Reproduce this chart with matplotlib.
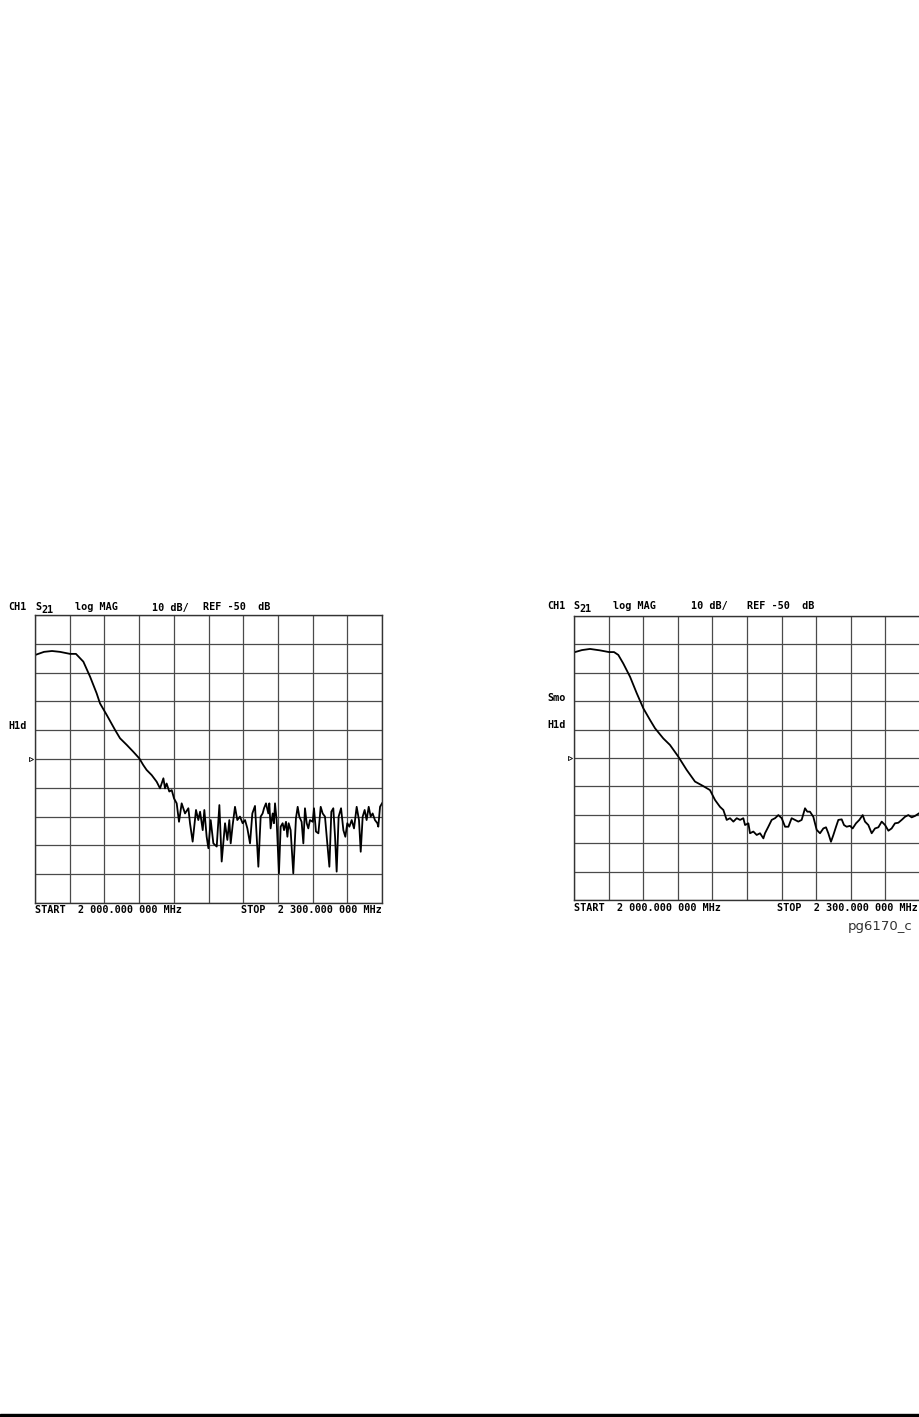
import numpy as np
import matplotlib
matplotlib.use("Agg")
import matplotlib.pyplot as plt
from matplotlib.patches import Rectangle

# sweep: 2000 -> 2300 MHz, 10 dB/div, ref -50 dB at centre
f_start, f_stop = 2000.0, 2300.0
db_top, db_bottom = 0.0, -100.0

# left trace (no smoothing)
left_freq = [2000.0, 2007.8, 2014.7, 2021.6, 2030.3, 2035.4, 2041.8, 2047.6, 2053.3, 2056.2,
             2062.0, 2069.2, 2073.5, 2079.3, 2085.0, 2090.2, 2093.6,
             2096.5, 2100.9, 2105.2, 2108.1, 2111.0, 2112.4, 2113.8, 2116.1, 2118.2, 2120.2,
             2122.5, 2124.5, 2126.8, 2129.7, 2132.6, 2134.0, 2136.3, 2139.2, 2141.2, 2142.7,
             2145.0, 2146.4, 2148.4, 2149.9, 2151.9, 2154.2, 2157.1, 2159.4, 2161.4, 2164.3,
             2166.3, 2168.0, 2169.2, 2170.9, 2172.9, 2174.9, 2177.2, 2179.5, 2181.6, 2183.6,
             2185.9, 2187.9, 2190.2, 2193.1, 2195.1,
             2196.8, 2198.0, 2199.7, 2201.7, 2202.6, 2203.7, 2205.5, 2206.6, 2207.5, 2208.9,
             2210.9, 2212.4, 2214.1, 2215.3, 2217.0, 2218.2, 2219.3, 2221.0, 2223.3, 2225.6,
             2227.1, 2228.5, 2230.5, 2232.0, 2233.4, 2234.9, 2236.3, 2237.7, 2240.1, 2241.2,
             2242.9, 2245.0, 2247.0, 2248.7, 2250.7, 2252.2, 2254.5, 2256.2, 2257.9, 2259.4,
             2260.8, 2262.5, 2264.6, 2266.6, 2268.3, 2270.0, 2271.8, 2273.8, 2275.8, 2278.1,
             2280.1, 2281.6, 2283.3, 2285.0, 2286.7, 2288.5, 2290.2, 2291.9, 2293.9, 2296.0,
             2296.8, 2298.3, 2300.0]
left_db = [-13.9, -12.8, -12.5, -12.8, -13.5, -13.5, -16.2, -21.4, -27.2, -30.7,
           -34.7, -39.9, -42.8, -45.1, -47.5, -49.8, -52.1,
           -53.8, -55.6, -57.9, -60.2, -56.7, -60.2, -58.5, -61.3, -60.8, -63.7,
           -65.4, -71.8, -65.4, -68.9, -67.1, -72.3, -78.7, -67.7, -71.2, -68.3,
           -74.7, -67.7, -77.0, -81.0, -71.2, -79.3, -80.4, -66.0, -85.6, -72.3,
           -78.1, -71.2, -79.3, -72.9, -66.6, -71.2, -70.0, -72.3, -71.2, -74.1,
           -79.3, -68.9, -66.3, -87.4, -70.0,
           -68.9, -67.1, -65.4, -68.9, -65.4, -74.1, -68.9, -72.3, -65.4, -71.2,
           -89.7, -73.5, -72.3, -74.7, -71.8, -77.0, -72.3, -74.7, -89.7, -70.6,
           -66.6, -70.0, -71.8, -79.3, -67.1, -72.3, -74.1, -71.2, -71.8, -67.1,
           -75.2, -75.8, -66.6, -68.9, -70.0, -77.0, -87.4, -68.3, -67.1, -77.0,
           -89.1, -70.0, -67.1, -74.7, -77.0, -72.3, -73.5, -71.2, -74.1, -66.6,
           -71.2, -82.2, -70.0, -67.7, -71.2, -66.6, -70.0, -68.9, -71.2, -72.3,
           -73.5, -66.6, -65.4]

# right trace (smoothing on)
right_freq = [2000.0, 2006.9, 2013.9, 2022.5, 2030.3, 2034.7, 2038.4, 2042.7, 2048.6, 2054.4,
              2060.1, 2065.9, 2070.2, 2077.4, 2083.2, 2090.4, 2097.7, 2104.9, 2112.1, 2117.9,
              2122.3, 2126.6, 2129.5, 2132.4, 2135.3, 2138.2, 2141.1, 2144.0, 2146.8, 2148.3,
              2151.2, 2152.6, 2155.5, 2158.4, 2161.3, 2164.2, 2165.6, 2168.5, 2171.4, 2174.3,
              2177.2, 2180.1, 2183.0, 2185.9, 2188.7, 2191.6, 2194.5, 2197.4, 2200.3, 2202.3,
              2204.6, 2207.5, 2210.4, 2213.3, 2216.2, 2218.5, 2220.5, 2222.8, 2224.9, 2227.2,
              2229.2, 2232.1, 2234.1, 2236.4, 2239.3, 2241.6, 2244.5, 2247.4, 2250.3, 2252.3,
              2255.2, 2258.1, 2261.0, 2263.9, 2266.8, 2269.7, 2272.6, 2275.4, 2278.3, 2281.2,
              2284.1, 2287.0, 2289.9, 2292.8, 2295.7, 2299.1]
right_db = [-12.8, -12.0, -11.6, -12.1, -12.7, -12.7, -13.7, -16.7, -21.4, -27.2,
            -32.5, -36.6, -39.5, -43.1, -45.4, -49.5, -54.2, -58.3, -59.9, -61.3,
            -64.8, -67.2, -68.3, -71.8, -71.2, -72.4, -71.2, -71.8, -71.2, -73.6,
            -73.0, -76.5, -75.9, -77.1, -76.5, -78.3, -76.5, -74.2, -71.8, -71.2,
            -70.1, -71.2, -74.2, -74.2, -71.2, -71.8, -72.4, -71.8, -67.7, -68.9,
            -68.9, -70.7, -75.3, -76.5, -74.8, -74.4, -76.5, -79.5, -77.1, -74.2,
            -71.8, -71.6, -73.6, -74.2, -73.9, -74.8, -73.0, -71.8, -70.1, -72.4,
            -73.6, -76.5, -74.8, -74.4, -72.4, -73.6, -75.6, -74.8, -73.0, -72.8,
            -71.8, -70.7, -70.1, -70.9, -70.4, -69.5]

header_words = ["CH1", None, "log MAG", "10 dB/", "REF -50  dB"]

W, H = 920, 1417
fig = plt.figure(figsize=(W / 100, H / 100), dpi=100)
mono = dict(family="DejaVu Sans Mono", weight="bold", size=7.3, color="black")


def fx(px):
    return px / W


def fy(py):
    return 1 - py / H


def panel(rect, freq, db, hdr_x, hdr_y, foot_y, side_labels):
    l, t, r, b = rect
    ax = fig.add_axes([fx(l), fy(b), fx(r) - fx(l), fy(t) - fy(b)])
    ax.plot(freq, db, color="black", lw=1.3)
    ax.set_xlim(f_start, f_stop)
    ax.set_ylim(db_bottom, db_top)
    ax.set_xticks(np.linspace(f_start, f_stop, 11))
    ax.set_yticks(np.arange(db_bottom, db_top + 1, 10))
    ax.grid(True, color="#4a4a4a", lw=0.9)
    ax.tick_params(length=0, labelbottom=False, labelleft=False)
    for s in ax.spines.values():
        s.set_color("#333333")
        s.set_linewidth(1.0)
    # reference position marker
    ax.plot([-0.012], [0.5], transform=ax.transAxes, marker=">", ms=3,
            mfc="white", mec="black", mew=0.6, clip_on=False)
    # header
    for wx, w in zip(hdr_x, header_words):
        if w is None:
            fig.text(fx(wx), fy(hdr_y), "S", ha="left", va="baseline", **mono)
            fig.text(fx(wx + 6.5), fy(hdr_y + 2.5), "21", ha="left",
                     va="baseline", **mono)
        else:
            fig.text(fx(wx), fy(hdr_y), w, ha="left", va="baseline", **mono)
    fig.text(fx(l), fy(foot_y), "START  2 000.000 000 MHz", ha="left",
             va="baseline", **mono)
    fig.text(fx(min(r, 918)), fy(foot_y), "STOP  2 300.000 000 MHz", ha="right",
             va="baseline", **mono)
    for txt, yy in side_labels:
        fig.text(fx(l - 27), fy(yy), txt, ha="left", va="baseline", **mono)
    return ax


panel((35, 615, 382, 903), left_freq, left_db,
      [8, 35, 75, 152, 203], 610.5, 913, [("H1d", 729)])
panel((574, 616, 920, 900), right_freq, right_db,
      [547, 573, 613, 691, 747], 609, 911, [("Smo", 701), ("H1d", 728)])

fig.text(fx(848), fy(930), "pg6170_c", ha="left", va="baseline",
         family="DejaVu Sans", size=9.5, color="#333333")

# black rule at the bottom of the page
fig.patches.append(Rectangle((0, 0), 1, 3 / H, transform=fig.transFigure,
                             color="black", zorder=5))

fig.savefig("out.png", dpi=100, facecolor="white")
